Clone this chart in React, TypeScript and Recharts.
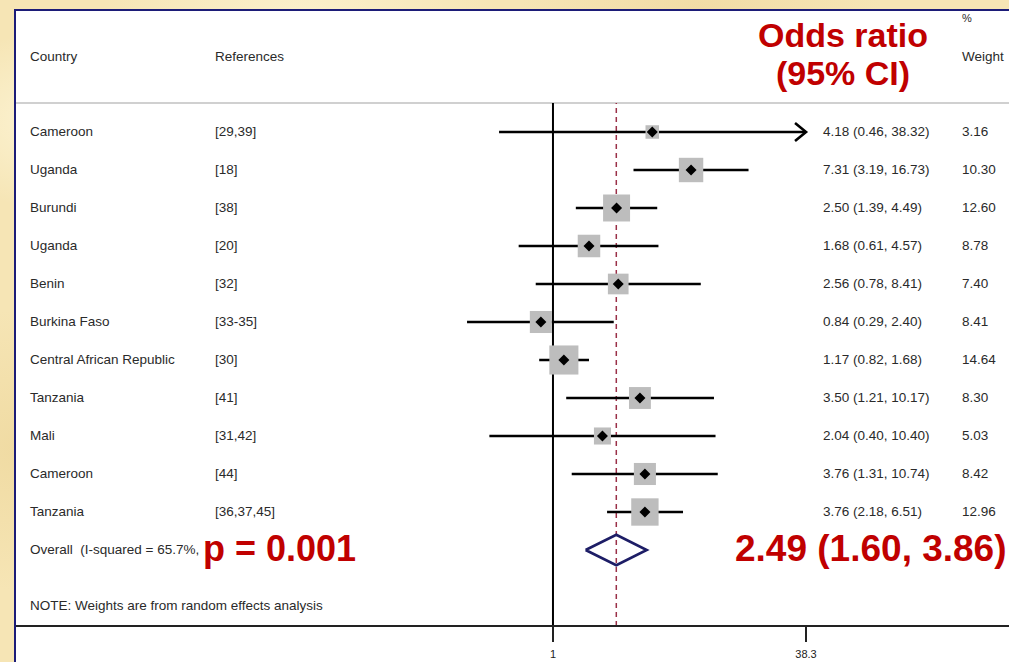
import { ComposedChart, ReferenceLine, Scatter, XAxis, YAxis } from 'recharts'

const countries = ['Cameroon', 'Uganda', 'Burundi', 'Uganda', 'Benin', 'Burkina Faso', 'Central African Republic', 'Tanzania', 'Mali', 'Cameroon', 'Tanzania']
const references = ['[29,39]', '[18]', '[38]', '[20]', '[32]', '[33-35]', '[30]', '[41]', '[31,42]', '[44]', '[36,37,45]']
const oddsRatio = [4.18, 7.31, 2.5, 1.68, 2.56, 0.84, 1.17, 3.5, 2.04, 3.76, 3.76]
const ciLow = [0.46, 3.19, 1.39, 0.61, 0.78, 0.29, 0.82, 1.21, 0.4, 1.31, 2.18]
const ciHigh = [38.32, 16.73, 4.49, 4.57, 8.41, 2.4, 1.68, 10.17, 10.4, 10.74, 6.51]
const weights = [3.16, 10.3, 12.6, 8.78, 7.4, 8.41, 14.64, 8.3, 5.03, 8.42, 12.96]
const orLabels = ['4.18 (0.46, 38.32)', '7.31 (3.19, 16.73)', '2.50 (1.39, 4.49)', '1.68 (0.61, 4.57)', '2.56 (0.78, 8.41)', '0.84 (0.29, 2.40)', '1.17 (0.82, 1.68)', '3.50 (1.21, 10.17)', '2.04 (0.40, 10.40)', '3.76 (1.31, 10.74)', '3.76 (2.18, 6.51)']
const weightLabels = ['3.16', '10.30', '12.60', '8.78', '7.40', '8.41', '14.64', '8.30', '5.03', '8.42', '12.96']
const pooled = [2.49, 1.6, 3.86] // estimate, lower, upper
const xTicks = [1, 38.3]

const OVERALL_ROW = 11
const NOTE_ROW = 12.47
const X_MAX = 38.3

const studies = oddsRatio.map((v, i) => ({ x: v, y: i, w: weights[i] }))
const diamond = [
  { x: pooled[1], y: OVERALL_ROW },
  { x: pooled[0], y: OVERALL_ROW - 0.4 },
  { x: pooled[2], y: OVERALL_ROW },
  { x: pooled[0], y: OVERALL_ROW + 0.4 },
  { x: pooled[1], y: OVERALL_ROW },
]
const yTicks = [...countries.map((_, i) => i), OVERALL_ROW, NOTE_ROW]

const FONT = '"Liberation Sans", Arial, Helvetica, sans-serif'
const RED = '#c00000'

function RowTick(props: any) {
  const { y, payload } = props
  const v = payload.value
  const common = { fontSize: 13.5, fill: '#2a2a2a', fontFamily: FONT, dominantBaseline: 'central' as const }
  if (v === OVERALL_ROW) {
    return <text x={30} y={y} {...common}>{'Overall\u00a0\u00a0(I-squared = 65.7%,'}</text>
  }
  if (v === NOTE_ROW) {
    return <text x={30} y={y} {...common}>NOTE: Weights are from random effects analysis</text>
  }
  const i = Math.round(v)
  return (
    <g>
      <text x={30} y={y} {...common}>{countries[i]}</text>
      <text x={215} y={y} {...common}>{references[i]}</text>
      <text x={823} y={y} {...common}>{orLabels[i]}</text>
      <text x={962} y={y} {...common}>{weightLabels[i]}</text>
    </g>
  )
}

function StudyBox(props: any) {
  const { cx, cy, payload } = props
  const s = 7.6 * Math.sqrt(payload.w)
  return <rect x={cx - s / 2} y={cy - s / 2} width={s} height={s} fill="#bdbdbd" />
}

function StudyPoint(props: any) {
  const { cx, cy } = props
  return <polygon points={`${cx - 5.5},${cy} ${cx},${cy - 5.5} ${cx + 5.5},${cy} ${cx},${cy + 5.5}`} fill="#000" />
}

const ciShape = (arrow: boolean) => (p: any) => {
  const { x1, y1, x2, y2 } = p
  return (
    <g>
      <line x1={x1} y1={y1} x2={x2} y2={y2} stroke="#000" strokeWidth={2.6} />
      {arrow && (
        <polyline
          points={`${x2 - 11},${y2 - 9} ${x2},${y2} ${x2 - 11},${y2 + 9}`}
          fill="none"
          stroke="#000"
          strokeWidth={2.6}
        />
      )}
    </g>
  )
}

const bg =
  'radial-gradient(ellipse 140px 90px at 60px 120px, rgba(255,250,225,0.7), transparent),' +
  'radial-gradient(ellipse 200px 120px at 300px 20px, rgba(255,248,220,0.6), transparent),' +
  'radial-gradient(ellipse 160px 140px at 20px 450px, rgba(236,212,150,0.6), transparent),' +
  'radial-gradient(ellipse 180px 80px at 700px 10px, rgba(238,214,155,0.6), transparent),' +
  '#f6e5b5'

export default function App() {
  return (
    <div style={{ position: 'absolute', left: 0, top: 0, width: 1009, height: 662, overflow: 'hidden', background: bg, fontFamily: FONT }}>
      <div
        style={{
          position: 'absolute',
          left: 14,
          top: 9,
          width: 1020,
          height: 680,
          background: '#fff',
          borderLeft: '2px solid #1c1c78',
          borderTop: '2px solid #1c1c78',
        }}
      />
      <div style={{ position: 'absolute', left: 16, top: 102, width: 1000, height: 2, background: '#d0d0d0' }} />

      <div style={{ position: 'absolute', left: 30, top: 49, fontSize: 13.5, color: '#2a2a2a' }}>Country</div>
      <div style={{ position: 'absolute', left: 215, top: 49, fontSize: 13.5, color: '#2a2a2a' }}>References</div>
      <div style={{ position: 'absolute', left: 962, top: 12, fontSize: 11, color: '#2a2a2a' }}>%</div>
      <div style={{ position: 'absolute', left: 962, top: 49, fontSize: 13.5, color: '#2a2a2a' }}>Weight</div>
      <div
        style={{
          position: 'absolute',
          left: 743,
          top: 16,
          width: 200,
          textAlign: 'center',
          fontSize: 34,
          fontWeight: 700,
          lineHeight: '38px',
          color: RED,
        }}
      >
        Odds ratio
        <br />
        (95% CI)
      </div>

      <div style={{ position: 'absolute', left: 0, top: 0 }}>
        <ComposedChart width={1009} height={662} margin={{ top: 103, right: 0, bottom: 6, left: 15 }}>
          <XAxis
            type="number"
            dataKey="x"
            scale="log"
            domain={[0.000437, 713]}
            allowDataOverflow
            ticks={xTicks}
            tickFormatter={(v: number) => String(v)}
            tick={{ fontSize: 11, fill: '#222', fontFamily: FONT }}
            axisLine={{ stroke: '#222', strokeWidth: 2 }}
            tickLine={{ stroke: '#222', strokeWidth: 2 }}
            tickSize={16}
            tickMargin={8}
            height={30}
            interval={0}
          />
          <YAxis
            type="number"
            dataKey="y"
            reversed
            domain={[-0.763, 13]}
            allowDataOverflow
            ticks={yTicks}
            interval={0}
            width={1}
            axisLine={false}
            tickLine={false}
            tick={<RowTick />}
          />
          <Scatter data={studies} shape={StudyBox} isAnimationActive={false} />
          <ReferenceLine x={1} stroke="#000" strokeWidth={2} />
          <ReferenceLine x={pooled[0]} stroke="#9a3048" strokeWidth={1.5} strokeDasharray="5 4" />
          {oddsRatio.map((_, i) => (
            <ReferenceLine
              key={i}
              segment={[
                { x: ciLow[i], y: i },
                { x: Math.min(ciHigh[i], X_MAX), y: i },
              ]}
              shape={ciShape(ciHigh[i] > X_MAX)}
            />
          ))}
          <Scatter data={studies} shape={StudyPoint} isAnimationActive={false} />
          <Scatter
            data={diamond}
            line={{ stroke: '#1d1d66', strokeWidth: 2.6 }}
            lineType="joint"
            shape={() => <g />}
            isAnimationActive={false}
          />
        </ComposedChart>
      </div>

      <div style={{ position: 'absolute', left: 203, top: 529, fontSize: 36, fontWeight: 700, color: RED, lineHeight: '40px' }}>
        p = 0.001
      </div>
      <div style={{ position: 'absolute', left: 735, top: 529, fontSize: 37, fontWeight: 700, color: RED, lineHeight: '40px', whiteSpace: 'nowrap' }}>
        2.49 (1.60, 3.86)
      </div>
    </div>
  )
}
